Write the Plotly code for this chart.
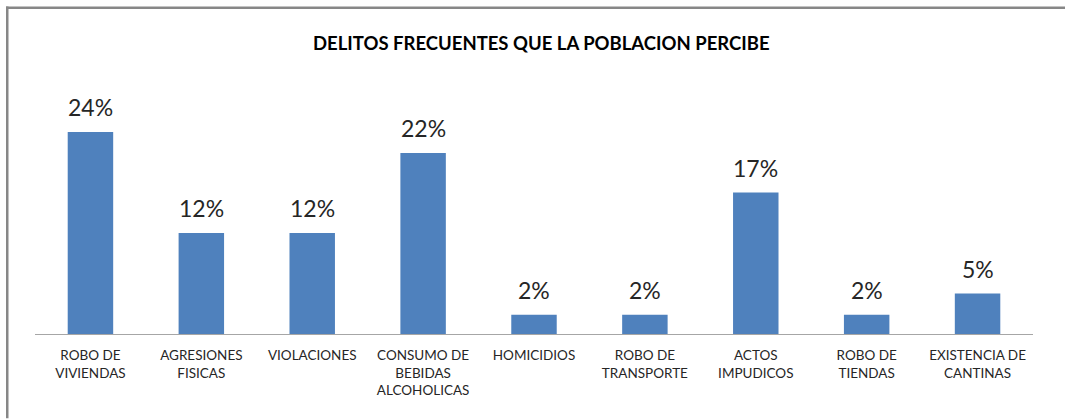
import plotly.graph_objects as go

categories = ["ROBO DE<br>VIVIENDAS", "AGRESIONES<br>FISICAS", "VIOLACIONES",
              "CONSUMO DE<br>BEBIDAS<br>ALCOHOLICAS", "HOMICIDIOS", "ROBO DE<br>TRANSPORTE",
              "ACTOS<br>IMPUDICOS", "ROBO DE<br>TIENDAS", "EXISTENCIA DE<br>CANTINAS"]
values = [0.24, 0.12, 0.12, 0.215, 0.023, 0.023, 0.168, 0.023, 0.048]
labels = ["24%", "12%", "12%", "22%", "2%", "2%", "17%", "2%", "5%"]

W, H = 1065, 419
L = 35
R = W - 1033
T = 70
B = H - 334.5
pw, ph = W - L - R, H - T - B

def px_x(p):
    return (p - L) / pw

def px_y(p):
    return (H - B - p) / ph

FONT = "Lato, Open Sans, sans-serif"
xs = list(range(len(categories)))

fig = go.Figure(go.Bar(
    x=xs, y=values,
    marker=dict(color="#4F81BD", line=dict(width=0)), width=0.41,
))

ann = [dict(x=xs[i], y=values[i], xref="x", yref="y", text=labels[i], showarrow=False,
            yanchor="middle", xanchor="center", yshift=25,
            font=dict(family=FONT, size=23, color="#262626")) for i in range(len(xs))]
ann.append(dict(text="<b>DELITOS FRECUENTES QUE LA POBLACION PERCIBE</b>", x=px_x(541), y=px_y(43),
                xref="paper", yref="paper", showarrow=False, xanchor="center", yanchor="middle",
                font=dict(family=FONT, size=18.5, color="#000000")))

BORDER = "#878787"
fig.update_layout(
    width=W, height=H, margin=dict(l=L, r=R, t=T, b=B),
    paper_bgcolor="white", plot_bgcolor="white", showlegend=False,
    xaxis=dict(tickmode="array", tickvals=xs, ticktext=categories,
               range=[-0.5, len(categories) - 0.5], showline=True, linecolor="#a6a6a6", linewidth=1,
               showgrid=False, zeroline=False, ticks="", ticklabelstandoff=9,
               tickfont=dict(family=FONT, size=13.5, color="#262626")),
    yaxis=dict(range=[0, (334.5 - 70) / ((334.5 - 132) / 0.24)], visible=False),
    annotations=ann,
    shapes=[
        dict(type="rect", xref="paper", yref="paper", x0=px_x(6), x1=px_x(W),
             y0=px_y(9), y1=px_y(6.5), line=dict(width=0), fillcolor=BORDER, layer="below"),
        dict(type="rect", xref="paper", yref="paper", x0=px_x(6), x1=px_x(8.5),
             y0=px_y(H), y1=px_y(6.5), line=dict(width=0), fillcolor=BORDER, layer="below"),
    ],
)

fig.write_html("out.html", config={"displayModeBar": False},
               post_script=("document.documentElement.style.overflow='hidden';"
                            "document.body.style.margin='0';document.body.style.overflow='hidden';"))
